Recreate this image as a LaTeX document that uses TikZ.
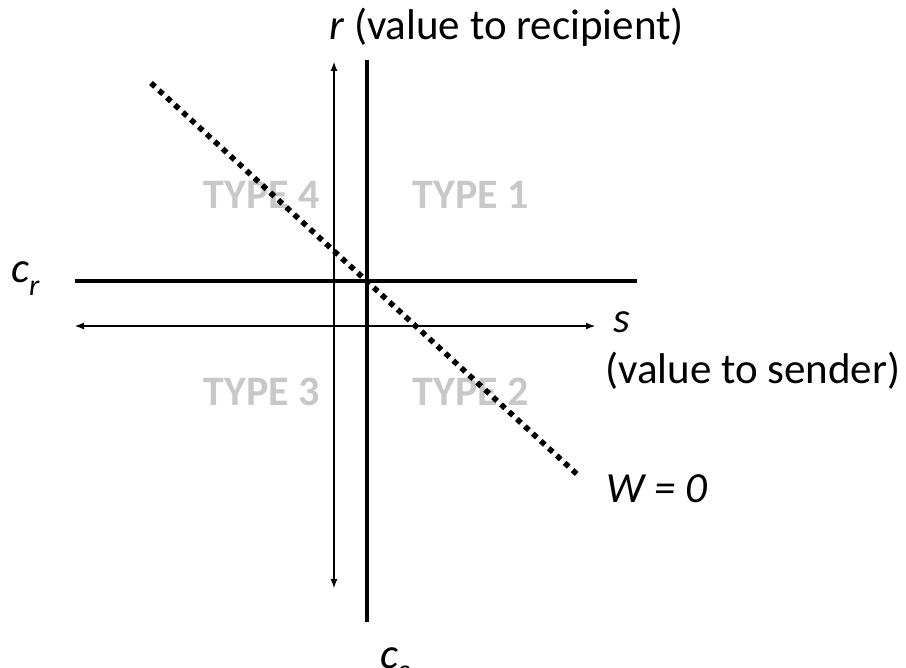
\documentclass[tikz,border=0pt]{standalone}
\usepackage{fontspec}
\setmainfont{Carlito}
\usetikzlibrary{arrows.meta}
\definecolor{typegray}{RGB}{200,200,200}
\begin{document}
\begin{tikzpicture}[x=1pt,y=-1pt,
  thickline/.style={line width=4.5pt},
  thinarrow/.style={line width=1.1pt,{Latex[length=9pt,width=7pt]}-{Latex[length=9pt,width=7pt]}},
  dotline/.style={line width=5.5pt,dash pattern=on 5.5pt off 5.3pt},
  typelabel/.style={font=\fontsize{42}{48}\selectfont\bfseries,text=typegray,inner sep=0pt},
  lbl/.style={font=\fontsize{43}{50}\selectfont,inner sep=0pt}]
\useasboundingbox (0,0) rectangle (906,668);
\coordinate (vt) at (334,62);
\coordinate (vb) at (334,588);
\coordinate (hl) at (75,326);
\coordinate (hr) at (595,326);
\coordinate (Vt) at (367,60);
\coordinate (Vb) at (367,622);
\coordinate (Hl) at (75,281);
\coordinate (Hr) at (637,281);
\coordinate (d1) at (151,83);
\coordinate (d2) at (580,477);
\node[typelabel] (t4) at (262,195) {TYPE 4};
\node[typelabel] (t1) at (471,195) {TYPE 1};
\node[typelabel] (t3) at (262,392) {TYPE 3};
\node[typelabel] (t2) at (471,392) {TYPE 2};
\draw[thinarrow] (vt) -- (vb);
\draw[thinarrow] (hl) -- (hr);
\draw[thickline] (Vt) -- (Vb);
\draw[thickline] (Hl) -- (Hr);
\draw[dotline] (d1) -- (d2);
\node[lbl,anchor=base west] (rl) at (329,40) {\textit{r} (value to recipient)};
\node[lbl,anchor=base west] (cr) at (11,283) {\textit{c}\raisebox{-0.3em}{\fontsize{30}{34}\selectfont\textit{r}}};
\node[lbl,anchor=base west] (sl) at (613,333) {\textit{s}};
\node[lbl,anchor=base west] (sv) at (605,384) {(value to sender)};
\node[lbl,anchor=base west] (wl) at (606,503) {\textit{W = 0}};
\node[lbl,anchor=base west] (cs) at (380,668) {\textit{c}\raisebox{-0.3em}{\fontsize{30}{34}\selectfont\textit{s}}};
\end{tikzpicture}
\end{document}
